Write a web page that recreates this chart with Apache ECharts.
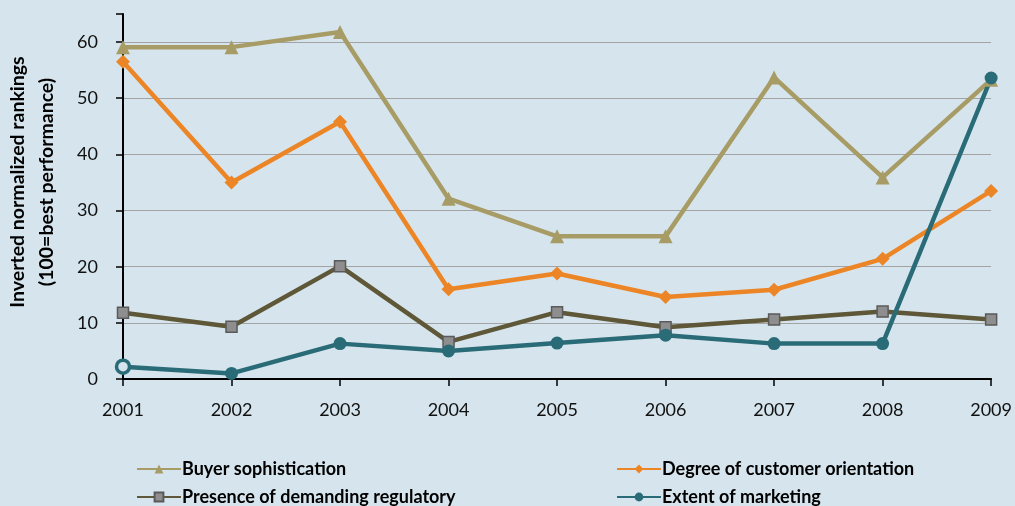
<!DOCTYPE html>
<html><head><meta charset="utf-8">
<script src="https://cdn.jsdelivr.net/npm/echarts@6/dist/echarts.min.js"></script>
<style>html,body{margin:0;padding:0;background:#D6E5ED}#c{width:1015px;height:506px}</style>
</head><body><div id="c"></div>
<script>
const years = ['2001','2002','2003','2004','2005','2006','2007','2008','2009'];
const buyer = [59.1, 59.1, 61.8, 32.1, 25.4, 25.4, 53.7, 35.9, 53.3];
const degree = [56.5, 35.0, 45.8, 16.0, 18.8, 14.6, 15.9, 21.4, 33.5];
const presence = [11.8, 9.3, 20.1, 6.6, 11.9, 9.2, 10.6, 12.0, 10.6];
const extent = [2.2, 1.0, 6.3, 5.0, 6.4, 7.8, 6.3, 6.3, 53.6];
const yTicks = [0, 10, 20, 30, 40, 50, 60];

const FONT = 'Lato, "Open Sans", sans-serif';
const chart = echarts.init(document.getElementById('c'));
const grid = '#A3A3A3';
function mk(name, data, color, symbol, size, extra) {
  return Object.assign({
    name, type: 'line', data, symbol, symbolSize: size,
    lineStyle: { color, width: 4.5 }, itemStyle: { color },
    emphasis: { disabled: true }
  }, extra || {});
}
function lg(name, left, top) {
  return { data: [name], orient: 'horizontal', left, top, itemWidth: 44, itemHeight: 11,
    textStyle: { fontSize: 18, fontWeight: 'bold', color: '#000', fontFamily: FONT, padding: [0,0,0,-4] },
    selectedMode: false };
}
const extentData = extent.map((v, i) => i === 0
  ? { value: v, itemStyle: { color: '#D6E5ED', borderColor: '#2A6B78', borderWidth: 3.5 } }
  : v);
chart.setOption({
  backgroundColor: '#D6E5ED',
  animation: false,
  textStyle: { fontFamily: FONT },
  grid: { left: 123, right: 20, top: 14, bottom: 127 },
  xAxis: {
    type: 'category', data: years, boundaryGap: false,
    axisLine: { lineStyle: { color: '#000', width: 2 } },
    axisTick: { show: true, length: 7, lineStyle: { color: '#000', width: 1.5 } },
    axisLabel: { color: '#111', fontSize: 18, margin: 22, fontFamily: FONT }
  },
  yAxis: {
    type: 'value', min: 0, max: 65, interval: 10,
    axisLine: { show: true, lineStyle: { color: '#000', width: 2 } },
    axisTick: { show: true, length: 7, lineStyle: { color: '#000', width: 1.5 } },
    axisLabel: { color: '#111', fontSize: 18, margin: 25, fontFamily: FONT,
      formatter: v => yTicks.indexOf(v) >= 0 ? String(v) : '' },
    splitLine: { show: true, lineStyle: { width: 1.2,
      color: [grid, grid, grid, grid, grid, grid, grid, 'rgba(0,0,0,0)'] } }
  },
  legend: [
    lg('Buyer sophistication', 131, 455),
    lg('Degree of customer orientation', 611, 455),
    lg('Presence of demanding regulatory', 131, 483),
    lg('Extent of marketing', 611, 483)
  ],
  graphic: [{
    type: 'text', x: 32, y: 182, rotation: Math.PI / 2,
    style: { text: 'Inverted normalized rankings\n(100=best performance)', align: 'center',
      verticalAlign: 'middle', fontSize: 19.5, fontWeight: 'bold', fill: '#000',
      fontFamily: FONT, lineHeight: 29 }
  }],
  series: [
    mk('Buyer sophistication', buyer, '#A89C66', 'triangle', 14),
    mk('Degree of customer orientation', degree, '#EC8526', 'diamond', 14),
    mk('Presence of demanding regulatory', presence, '#5E5838', 'rect', 11,
      { itemStyle: { color: '#8E8E8E', borderColor: '#5A5A5A', borderWidth: 1.5 } }),
    mk('Extent of marketing', extentData, '#2A6B78', 'circle', 13)
  ]
});
</script></body></html>
